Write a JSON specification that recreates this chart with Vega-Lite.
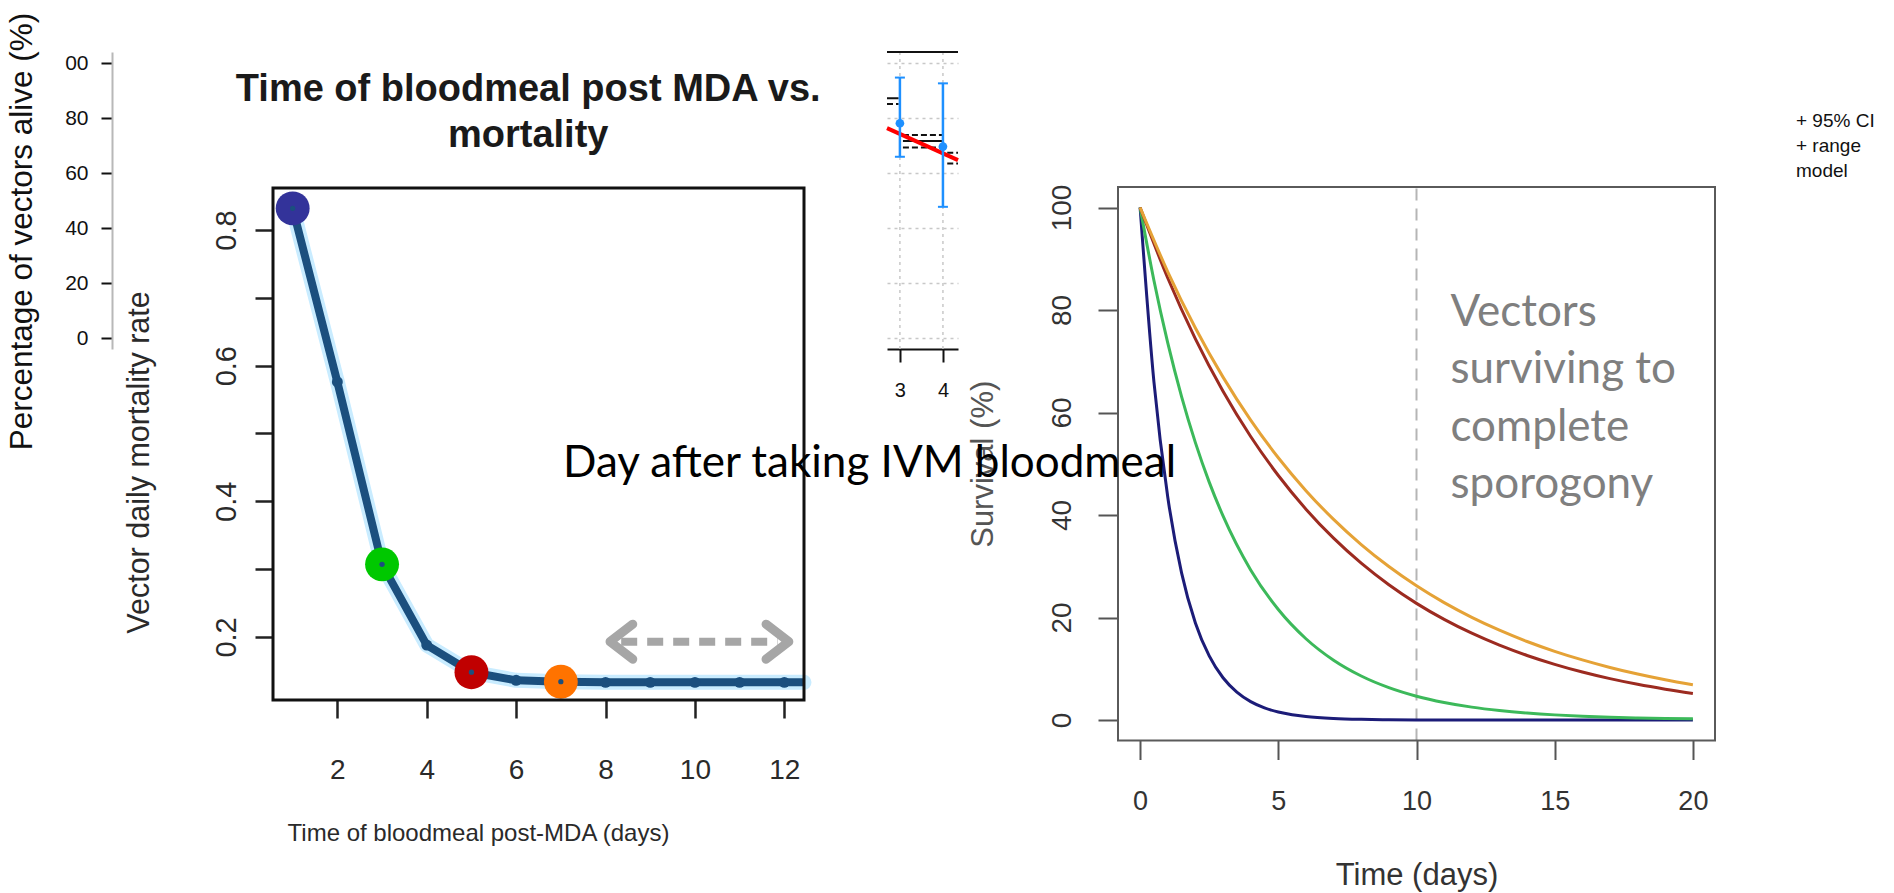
{
  "$schema": "https://vega.github.io/schema/vega-lite/v6.json",
  "width": 1894,
  "height": 893,
  "autosize": {"type": "none"},
  "padding": 0,
  "background": "#ffffff",
  "config": {
    "view": {"stroke": null},
    "font": "Liberation Sans",
    "axis": {"grid": false, "titleFontWeight": "normal", "labelFont": "Liberation Sans", "titleFont": "Liberation Sans", "labelOverlap": false, "labelFlush": false}
  },
  "datasets": {
    "mortality": [
      {"day": 1, "rate": 0.832}, {"day": 2, "rate": 0.576}, {"day": 3, "rate": 0.307},
      {"day": 4, "rate": 0.188}, {"day": 5, "rate": 0.148}, {"day": 6, "rate": 0.136},
      {"day": 7, "rate": 0.134}, {"day": 8, "rate": 0.133}, {"day": 9, "rate": 0.133},
      {"day": 10, "rate": 0.133}, {"day": 11, "rate": 0.133}, {"day": 12, "rate": 0.133},
      {"day": 13, "rate": 0.133}
    ],
    "survival": [
      {"bloodmeal_day": "1", "time": 0, "surviving": 100}, {"bloodmeal_day": "1", "time": 0.5, "surviving": 65.97},
      {"bloodmeal_day": "1", "time": 1, "surviving": 43.52}, {"bloodmeal_day": "1", "time": 1.5, "surviving": 28.71},
      {"bloodmeal_day": "1", "time": 2, "surviving": 18.94}, {"bloodmeal_day": "1", "time": 2.5, "surviving": 12.5},
      {"bloodmeal_day": "1", "time": 3, "surviving": 8.24}, {"bloodmeal_day": "1", "time": 3.5, "surviving": 5.44},
      {"bloodmeal_day": "1", "time": 4, "surviving": 3.59}, {"bloodmeal_day": "1", "time": 4.5, "surviving": 2.37},
      {"bloodmeal_day": "1", "time": 5, "surviving": 1.56}, {"bloodmeal_day": "1", "time": 5.5, "surviving": 1.03},
      {"bloodmeal_day": "1", "time": 6, "surviving": 0.68}, {"bloodmeal_day": "1", "time": 7, "surviving": 0.3},
      {"bloodmeal_day": "1", "time": 8, "surviving": 0.13}, {"bloodmeal_day": "1", "time": 9, "surviving": 0.06},
      {"bloodmeal_day": "1", "time": 10, "surviving": 0.02}, {"bloodmeal_day": "1", "time": 12, "surviving": 0},
      {"bloodmeal_day": "1", "time": 14, "surviving": 0}, {"bloodmeal_day": "1", "time": 16, "surviving": 0},
      {"bloodmeal_day": "1", "time": 18, "surviving": 0}, {"bloodmeal_day": "1", "time": 20, "surviving": 0},
      {"bloodmeal_day": "3", "time": 0, "surviving": 100}, {"bloodmeal_day": "3", "time": 0.5, "surviving": 85.77},
      {"bloodmeal_day": "3", "time": 1, "surviving": 73.57}, {"bloodmeal_day": "3", "time": 1.5, "surviving": 63.1},
      {"bloodmeal_day": "3", "time": 2, "surviving": 54.12}, {"bloodmeal_day": "3", "time": 2.5, "surviving": 46.42},
      {"bloodmeal_day": "3", "time": 3, "surviving": 39.82}, {"bloodmeal_day": "3", "time": 4, "surviving": 29.29},
      {"bloodmeal_day": "3", "time": 5, "surviving": 21.55}, {"bloodmeal_day": "3", "time": 6, "surviving": 15.85},
      {"bloodmeal_day": "3", "time": 7, "surviving": 11.66}, {"bloodmeal_day": "3", "time": 8, "surviving": 8.58},
      {"bloodmeal_day": "3", "time": 9, "surviving": 6.31}, {"bloodmeal_day": "3", "time": 10, "surviving": 4.64},
      {"bloodmeal_day": "3", "time": 11, "surviving": 3.42}, {"bloodmeal_day": "3", "time": 12, "surviving": 2.51},
      {"bloodmeal_day": "3", "time": 13, "surviving": 1.85}, {"bloodmeal_day": "3", "time": 14, "surviving": 1.36},
      {"bloodmeal_day": "3", "time": 15, "surviving": 1.0}, {"bloodmeal_day": "3", "time": 16, "surviving": 0.74},
      {"bloodmeal_day": "3", "time": 17, "surviving": 0.54}, {"bloodmeal_day": "3", "time": 18, "surviving": 0.4},
      {"bloodmeal_day": "3", "time": 19, "surviving": 0.29}, {"bloodmeal_day": "3", "time": 20, "surviving": 0.22},
      {"bloodmeal_day": "5", "time": 0, "surviving": 100}, {"bloodmeal_day": "5", "time": 1, "surviving": 86.24},
      {"bloodmeal_day": "5", "time": 2, "surviving": 74.37}, {"bloodmeal_day": "5", "time": 3, "surviving": 64.14},
      {"bloodmeal_day": "5", "time": 4, "surviving": 55.31}, {"bloodmeal_day": "5", "time": 5, "surviving": 47.71},
      {"bloodmeal_day": "5", "time": 6, "surviving": 41.14}, {"bloodmeal_day": "5", "time": 7, "surviving": 35.48},
      {"bloodmeal_day": "5", "time": 8, "surviving": 30.6}, {"bloodmeal_day": "5", "time": 9, "surviving": 26.39},
      {"bloodmeal_day": "5", "time": 10, "surviving": 22.76}, {"bloodmeal_day": "5", "time": 11, "surviving": 19.63},
      {"bloodmeal_day": "5", "time": 12, "surviving": 16.93}, {"bloodmeal_day": "5", "time": 13, "surviving": 14.6},
      {"bloodmeal_day": "5", "time": 14, "surviving": 12.59}, {"bloodmeal_day": "5", "time": 15, "surviving": 10.86},
      {"bloodmeal_day": "5", "time": 16, "surviving": 9.36}, {"bloodmeal_day": "5", "time": 17, "surviving": 8.07},
      {"bloodmeal_day": "5", "time": 18, "surviving": 6.96}, {"bloodmeal_day": "5", "time": 19, "surviving": 6.01},
      {"bloodmeal_day": "5", "time": 20, "surviving": 5.18},
      {"bloodmeal_day": "7", "time": 0, "surviving": 100}, {"bloodmeal_day": "7", "time": 1, "surviving": 87.46},
      {"bloodmeal_day": "7", "time": 2, "surviving": 76.49}, {"bloodmeal_day": "7", "time": 3, "surviving": 66.9},
      {"bloodmeal_day": "7", "time": 4, "surviving": 58.51}, {"bloodmeal_day": "7", "time": 5, "surviving": 51.17},
      {"bloodmeal_day": "7", "time": 6, "surviving": 44.75}, {"bloodmeal_day": "7", "time": 7, "surviving": 39.14},
      {"bloodmeal_day": "7", "time": 8, "surviving": 34.23}, {"bloodmeal_day": "7", "time": 9, "surviving": 29.94},
      {"bloodmeal_day": "7", "time": 10, "surviving": 26.18}, {"bloodmeal_day": "7", "time": 11, "surviving": 22.9},
      {"bloodmeal_day": "7", "time": 12, "surviving": 20.03}, {"bloodmeal_day": "7", "time": 13, "surviving": 17.52},
      {"bloodmeal_day": "7", "time": 14, "surviving": 15.32}, {"bloodmeal_day": "7", "time": 15, "surviving": 13.4},
      {"bloodmeal_day": "7", "time": 16, "surviving": 11.72}, {"bloodmeal_day": "7", "time": 17, "surviving": 10.25},
      {"bloodmeal_day": "7", "time": 18, "surviving": 8.96}, {"bloodmeal_day": "7", "time": 19, "surviving": 7.84},
      {"bloodmeal_day": "7", "time": 20, "surviving": 6.86}
    ],
    "trial": [
      {"day": 3, "alive": 78.1, "lo": 65.9, "hi": 94.7},
      {"day": 4, "alive": 69.6, "lo": 47.7, "hi": 92.6}
    ],
    "model_fit": [
      {"day": 2.7, "alive": 76.3},
      {"day": 4.35, "alive": 64.7}
    ],
    "model_steps": [
      {"from_day": 2.7, "to_day": 2.97, "alive": 87.2, "kind": "solid"},
      {"from_day": 2.7, "to_day": 2.97, "alive": 85.1, "kind": "dashed"},
      {"from_day": 3.07, "to_day": 4.0, "alive": 73.8, "kind": "dashed"},
      {"from_day": 3.07, "to_day": 4.0, "alive": 71.6, "kind": "solid"},
      {"from_day": 3.07, "to_day": 4.0, "alive": 69.3, "kind": "dashed"},
      {"from_day": 4.1, "to_day": 4.35, "alive": 67.4, "kind": "dashed"},
      {"from_day": 4.1, "to_day": 4.35, "alive": 63.5, "kind": "dashed"}
    ],
    "trial_days": [{"day": 3}, {"day": 4}]
  },
  "resolve": {
    "scale": {"x": "independent", "y": "independent", "color": "independent", "strokeDash": "independent"},
    "axis": {"x": "independent", "y": "independent"}
  },
  "layer": [
    {
      "data": {"name": "trial_days"},
      "mark": {"type": "rule", "color": "#c8c8c8", "strokeWidth": 1.5, "strokeDash": [3, 4]},
      "encoding": {
        "x": {"field": "day", "type": "quantitative", "scale": {"domain": [2.7, 4.35], "range": [887, 958], "nice": false, "zero": false}, "axis": null},
        "y": {"datum": -4, "type": "quantitative", "scale": {"domain": [-4, 104], "range": [349, 52], "nice": false, "zero": false}, "axis": null},
        "y2": {"datum": 104}
      }
    },
    {
      "data": {"name": "model_steps"},
      "mark": {"type": "rule", "color": "#111111", "strokeWidth": 2},
      "encoding": {
        "x": {"field": "from_day", "type": "quantitative", "scale": {"domain": [2.7, 4.35], "range": [887, 958], "nice": false, "zero": false}, "axis": null},
        "x2": {"field": "to_day"},
        "y": {"field": "alive", "type": "quantitative", "scale": {"domain": [-4, 104], "range": [349, 52], "nice": false, "zero": false}, "axis": null},
        "strokeDash": {"field": "kind", "type": "nominal", "scale": {"domain": ["solid", "dashed"], "range": [[1, 0], [6, 3]]}, "legend": null}
      }
    },
    {
      "data": {"name": "model_fit"},
      "mark": {"type": "line", "color": "#ff0000", "strokeWidth": 4},
      "encoding": {
        "x": {"field": "day", "type": "quantitative", "scale": {"domain": [2.7, 4.35], "range": [887, 958], "nice": false, "zero": false}, "axis": null},
        "y": {"field": "alive", "type": "quantitative", "scale": {"domain": [-4, 104], "range": [349, 52], "nice": false, "zero": false}, "axis": null}
      }
    },
    {
      "data": {"name": "trial"},
      "mark": {"type": "rule", "color": "#1e90ff", "strokeWidth": 2.5},
      "encoding": {
        "x": {"field": "day", "type": "quantitative", "scale": {"domain": [2.7, 4.35], "range": [887, 958], "nice": false, "zero": false}, "axis": null},
        "y": {"field": "lo", "type": "quantitative", "scale": {"domain": [-4, 104], "range": [349, 52], "nice": false, "zero": false}, "axis": null},
        "y2": {"field": "hi"}
      }
    },
    {
      "data": {"name": "trial"},
      "mark": {"type": "tick", "orient": "horizontal", "color": "#1e90ff", "size": 10, "thickness": 2, "opacity": 1},
      "encoding": {
        "x": {"field": "day", "type": "quantitative", "scale": {"domain": [2.7, 4.35], "range": [887, 958], "nice": false, "zero": false}, "axis": null},
        "y": {"field": "lo", "type": "quantitative", "scale": {"domain": [-4, 104], "range": [349, 52], "nice": false, "zero": false}, "axis": null}
      }
    },
    {
      "data": {"name": "trial"},
      "mark": {"type": "tick", "orient": "horizontal", "color": "#1e90ff", "size": 10, "thickness": 2, "opacity": 1},
      "encoding": {
        "x": {"field": "day", "type": "quantitative", "scale": {"domain": [2.7, 4.35], "range": [887, 958], "nice": false, "zero": false}, "axis": null},
        "y": {"field": "hi", "type": "quantitative", "scale": {"domain": [-4, 104], "range": [349, 52], "nice": false, "zero": false}, "axis": null}
      }
    },
    {
      "data": {"name": "trial"},
      "mark": {"type": "point", "filled": true, "color": "#1e90ff", "size": 75, "opacity": 1},
      "encoding": {
        "x": {
          "field": "day", "type": "quantitative",
          "scale": {"domain": [2.7, 4.35], "range": [887, 958], "nice": false, "zero": false},
          "axis": {"orient": "bottom", "offset": -544, "values": [3, 4], "title": null, "domain": true, "domainColor": "#111111", "domainWidth": 2, "tickSize": 13, "tickWidth": 2, "tickColor": "#111111", "labelFontSize": 20, "labelColor": "#111111", "labelPadding": 18}
        },
        "y": {
          "field": "alive", "type": "quantitative",
          "scale": {"domain": [-4, 104], "range": [349, 52], "nice": false, "zero": false},
          "axis": {"orient": "left", "offset": -112, "values": [0, 20, 40, 60, 80, 100], "labelExpr": "datum.value == 100 ? '00' : datum.label", "domain": true, "domainColor": "#b8b8b8", "domainWidth": 2, "tickSize": 11, "tickWidth": 2, "tickColor": "#111111", "labelFontSize": 21, "labelColor": "#111111", "labelPadding": 13, "grid": true, "gridColor": "#c8c8c8", "gridDash": [3, 4], "gridWidth": 1.5, "title": "Percentage of vectors alive (%)", "titleFontSize": 31.5, "titleColor": "#111111", "titlePadding": 26, "titleY": 231}
        }
      }
    },
    {
      "data": {"values": [{}]},
      "mark": {"type": "rule", "color": "#111111", "strokeWidth": 2},
      "encoding": {
        "x": {"datum": 2.7, "type": "quantitative", "scale": {"domain": [2.7, 4.35], "range": [887, 958], "nice": false, "zero": false}, "axis": null},
        "x2": {"datum": 4.35},
        "y": {"datum": 104, "type": "quantitative", "scale": {"domain": [-4, 104], "range": [349, 52], "nice": false, "zero": false}, "axis": null}
      }
    },
    {
      "data": {"values": [{}]},
      "mark": {"type": "rule", "color": "#b5b5b5", "strokeWidth": 2, "strokeDash": [12, 8]},
      "encoding": {
        "x": {"datum": 10, "type": "quantitative", "scale": {"domain": [-0.8, 20.8], "range": [1118, 1715], "nice": false, "zero": false}, "axis": null},
        "y": {"datum": -4, "type": "quantitative", "scale": {"domain": [-4, 104], "range": [740.5, 187], "nice": false, "zero": false}, "axis": null},
        "y2": {"datum": 104}
      }
    },
    {
      "data": {"name": "survival"},
      "mark": {"type": "line", "strokeWidth": 3, "interpolate": "monotone"},
      "encoding": {
        "x": {
          "field": "time", "type": "quantitative",
          "scale": {"domain": [-0.8, 20.8], "range": [1118, 1715], "nice": false, "zero": false},
          "axis": {"orient": "bottom", "offset": -152.5, "values": [0, 5, 10, 15, 20], "title": "Time (days)", "domain": false, "tickSize": 19, "tickWidth": 2, "tickColor": "#555555", "labelFontSize": 27, "labelColor": "#333333", "labelPadding": 29, "titleFontSize": 31, "titleColor": "#333333", "titlePadding": 46}
        },
        "y": {
          "field": "surviving", "type": "quantitative",
          "scale": {"domain": [-4, 104], "range": [740.5, 187], "nice": false, "zero": false},
          "axis": {"orient": "left", "offset": -1118, "values": [0, 20, 40, 60, 80, 100], "title": "Survival (%)", "domain": false, "tickSize": 20, "tickWidth": 2, "tickColor": "#555555", "labelFontSize": 28, "labelColor": "#333333", "labelAngle": 270, "labelAlign": "center", "labelBaseline": "bottom", "labelPadding": 22, "titleFontSize": 31, "titleColor": "#555555", "titlePadding": 49}
        },
        "color": {"field": "bloodmeal_day", "type": "nominal", "scale": {"domain": ["1", "3", "5", "7"], "range": ["#1c1c78", "#3cb95a", "#9c2b20", "#e5a236"]}, "legend": null}
      }
    },
    {
      "data": {"values": [{}]},
      "mark": {"type": "text", "text": ["Vectors", "surviving to", "complete", "sporogony"], "font": "Lato", "fontSize": 44, "color": "#7f7f7f", "align": "left", "baseline": "alphabetic", "lineHeight": 57.5},
      "encoding": {
        "x": {"datum": 11.23, "type": "quantitative", "scale": {"domain": [-0.8, 20.8], "range": [1118, 1715], "nice": false, "zero": false}, "axis": null},
        "y": {"datum": 76.9, "type": "quantitative", "scale": {"domain": [-4, 104], "range": [740.5, 187], "nice": false, "zero": false}, "axis": null}
      }
    },
    {
      "data": {"values": [{}]},
      "mark": {"type": "text", "text": ["+ 95% CI", "+ range", "model"], "font": "Liberation Sans", "fontSize": 19, "color": "#111111", "align": "left", "baseline": "alphabetic", "lineHeight": 25},
      "encoding": {
        "x": {"datum": 23.73, "type": "quantitative", "scale": {"domain": [-0.8, 20.8], "range": [1118, 1715], "nice": false, "zero": false}, "axis": null},
        "y": {"datum": 115.7, "type": "quantitative", "scale": {"domain": [-4, 104], "range": [740.5, 187], "nice": false, "zero": false}, "axis": null}
      }
    },
    {
      "data": {"values": [{}]},
      "mark": {"type": "rect", "filled": false, "color": "#5a5a5a", "stroke": "#5a5a5a", "strokeWidth": 2},
      "encoding": {
        "x": {"datum": -0.8, "type": "quantitative", "scale": {"domain": [-0.8, 20.8], "range": [1118, 1715], "nice": false, "zero": false}, "axis": null},
        "x2": {"datum": 20.8},
        "y": {"datum": -4, "type": "quantitative", "scale": {"domain": [-4, 104], "range": [740.5, 187], "nice": false, "zero": false}, "axis": null},
        "y2": {"datum": 104}
      }
    },
    {
      "data": {"name": "mortality"},
      "mark": {"type": "line", "stroke": "#c9ecff", "strokeWidth": 15, "strokeCap": "round", "strokeJoin": "round"},
      "encoding": {
        "x": {"field": "day", "type": "quantitative", "scale": {"domain": [0.56, 12.44], "range": [273, 804], "nice": false, "zero": false, "clamp": true}, "axis": null},
        "y": {"field": "rate", "type": "quantitative", "scale": {"domain": [0.107, 0.862], "range": [700, 188], "nice": false, "zero": false}, "axis": null}
      }
    },
    {
      "data": {"name": "mortality"},
      "mark": {"type": "line", "stroke": "#1b4f7e", "strokeWidth": 8, "strokeJoin": "round"},
      "encoding": {
        "x": {
          "field": "day", "type": "quantitative",
          "scale": {"domain": [0.56, 12.44], "range": [273, 804], "nice": false, "zero": false, "clamp": true},
          "axis": {"orient": "bottom", "offset": -193, "values": [2, 4, 6, 8, 10, 12], "title": "Time of bloodmeal post-MDA (days)", "domain": false, "tickSize": 18, "tickWidth": 2.5, "tickColor": "#222222", "labelFontSize": 28, "labelColor": "#2a2a2a", "labelPadding": 38, "titleFontSize": 24, "titleColor": "#2a2a2a", "titlePadding": 37, "titleX": 478}
        },
        "y": {
          "field": "rate", "type": "quantitative",
          "scale": {"domain": [0.107, 0.862], "range": [700, 188], "nice": false, "zero": false},
          "axis": {"orient": "left", "offset": -273, "values": [0.2, 0.3, 0.4, 0.5, 0.6, 0.7, 0.8], "format": ".1f", "labelExpr": "indexof(['0.2', '0.4', '0.6', '0.8'], datum.label) >= 0 ? datum.label : ''", "domain": false, "tickSize": 18, "tickWidth": 2.5, "tickColor": "#222222", "labelFontSize": 29, "labelColor": "#2a2a2a", "labelAngle": 270, "labelAlign": "center", "labelBaseline": "bottom", "labelPadding": 14, "title": "Vector daily mortality rate", "titleFontSize": 30.5, "titleColor": "#2a2a2a", "titlePadding": 58, "titleY": 462}
        }
      }
    },
    {
      "data": {"name": "mortality"},
      "transform": [{"filter": "datum.day <= 12"}],
      "mark": {"type": "point", "filled": true, "color": "#1b4f7e", "size": 120, "opacity": 1},
      "encoding": {
        "x": {"field": "day", "type": "quantitative", "scale": {"domain": [0.56, 12.44], "range": [273, 804], "nice": false, "zero": false, "clamp": true}, "axis": null},
        "y": {"field": "rate", "type": "quantitative", "scale": {"domain": [0.107, 0.862], "range": [700, 188], "nice": false, "zero": false}, "axis": null}
      }
    },
    {
      "data": {"name": "mortality"},
      "transform": [{"filter": "indexof([1, 3, 5, 7], datum.day) >= 0"}],
      "mark": {"type": "point", "filled": true, "size": 1150, "opacity": 1},
      "encoding": {
        "x": {"field": "day", "type": "quantitative", "scale": {"domain": [0.56, 12.44], "range": [273, 804], "nice": false, "zero": false, "clamp": true}, "axis": null},
        "y": {"field": "rate", "type": "quantitative", "scale": {"domain": [0.107, 0.862], "range": [700, 188], "nice": false, "zero": false}, "axis": null},
        "color": {"field": "day", "type": "nominal", "scale": {"domain": [1, 3, 5, 7], "range": ["#33339a", "#00c800", "#c00000", "#ff7300"]}, "legend": null}
      }
    },
    {
      "data": {"name": "mortality"},
      "transform": [{"filter": "indexof([1, 3, 5, 7], datum.day) >= 0"}],
      "mark": {"type": "point", "filled": true, "color": "#1b4f7e", "size": 28, "opacity": 1},
      "encoding": {
        "x": {"field": "day", "type": "quantitative", "scale": {"domain": [0.56, 12.44], "range": [273, 804], "nice": false, "zero": false, "clamp": true}, "axis": null},
        "y": {"field": "rate", "type": "quantitative", "scale": {"domain": [0.107, 0.862], "range": [700, 188], "nice": false, "zero": false}, "axis": null}
      }
    },
    {
      "data": {"values": [{}]},
      "mark": {"type": "rule", "color": "#a6a6a6", "strokeWidth": 8, "strokeDash": [16, 10]},
      "encoding": {
        "x": {"datum": 8.35, "type": "quantitative", "scale": {"domain": [0.56, 12.44], "range": [273, 804], "nice": false, "zero": false, "clamp": true}, "axis": null},
        "x2": {"datum": 11.85},
        "y": {"datum": 0.193, "type": "quantitative", "scale": {"domain": [0.107, 0.862], "range": [700, 188], "nice": false, "zero": false}, "axis": null}
      }
    },
    {
      "data": {"values": [{}]},
      "mark": {"type": "point", "shape": "M 1.3 -1 L 0 0 L 1.3 1", "filled": false, "stroke": "#a6a6a6", "strokeWidth": 9, "strokeCap": "round", "strokeJoin": "round", "size": 1225, "opacity": 1},
      "encoding": {
        "x": {"datum": 8.1, "type": "quantitative", "scale": {"domain": [0.56, 12.44], "range": [273, 804], "nice": false, "zero": false, "clamp": true}, "axis": null},
        "y": {"datum": 0.193, "type": "quantitative", "scale": {"domain": [0.107, 0.862], "range": [700, 188], "nice": false, "zero": false}, "axis": null}
      }
    },
    {
      "data": {"values": [{}]},
      "mark": {"type": "point", "shape": "M -1.3 -1 L 0 0 L -1.3 1", "filled": false, "stroke": "#a6a6a6", "strokeWidth": 9, "strokeCap": "round", "strokeJoin": "round", "size": 1225, "opacity": 1},
      "encoding": {
        "x": {"datum": 12.1, "type": "quantitative", "scale": {"domain": [0.56, 12.44], "range": [273, 804], "nice": false, "zero": false, "clamp": true}, "axis": null},
        "y": {"datum": 0.193, "type": "quantitative", "scale": {"domain": [0.107, 0.862], "range": [700, 188], "nice": false, "zero": false}, "axis": null}
      }
    },
    {
      "data": {"values": [{}]},
      "mark": {"type": "text", "text": ["Time of bloodmeal post MDA vs.", "mortality"], "fontSize": 38, "fontWeight": "bold", "color": "#1a1a1a", "align": "center", "baseline": "alphabetic", "lineHeight": 46},
      "encoding": {
        "x": {"datum": 6.27, "type": "quantitative", "scale": {"domain": [0.56, 12.44], "range": [273, 804], "nice": false, "zero": false, "clamp": true}, "axis": null},
        "y": {"datum": 0.99, "type": "quantitative", "scale": {"domain": [0.107, 0.862], "range": [700, 188], "nice": false, "zero": false}, "axis": null}
      }
    },
    {
      "data": {"values": [{}]},
      "mark": {"type": "rect", "filled": false, "color": "#111111", "stroke": "#111111", "strokeWidth": 3},
      "encoding": {
        "x": {"datum": 0.56, "type": "quantitative", "scale": {"domain": [0.56, 12.44], "range": [273, 804], "nice": false, "zero": false, "clamp": true}, "axis": null},
        "x2": {"datum": 12.44},
        "y": {"datum": 0.107, "type": "quantitative", "scale": {"domain": [0.107, 0.862], "range": [700, 188], "nice": false, "zero": false}, "axis": null},
        "y2": {"datum": 0.862}
      }
    },
    {
      "data": {"values": [{}]},
      "mark": {"type": "text", "text": "Day after taking IVM bloodmeal", "font": "Lato", "fontSize": 44, "color": "#000000", "align": "left", "baseline": "alphabetic"},
      "encoding": {
        "x": {"datum": 7.05, "type": "quantitative", "scale": {"domain": [0.56, 12.44], "range": [273, 804], "nice": false, "zero": false, "clamp": true}, "axis": null},
        "y": {"datum": 0.436, "type": "quantitative", "scale": {"domain": [0.107, 0.862], "range": [700, 188], "nice": false, "zero": false}, "axis": null}
      }
    }
  ]
}
